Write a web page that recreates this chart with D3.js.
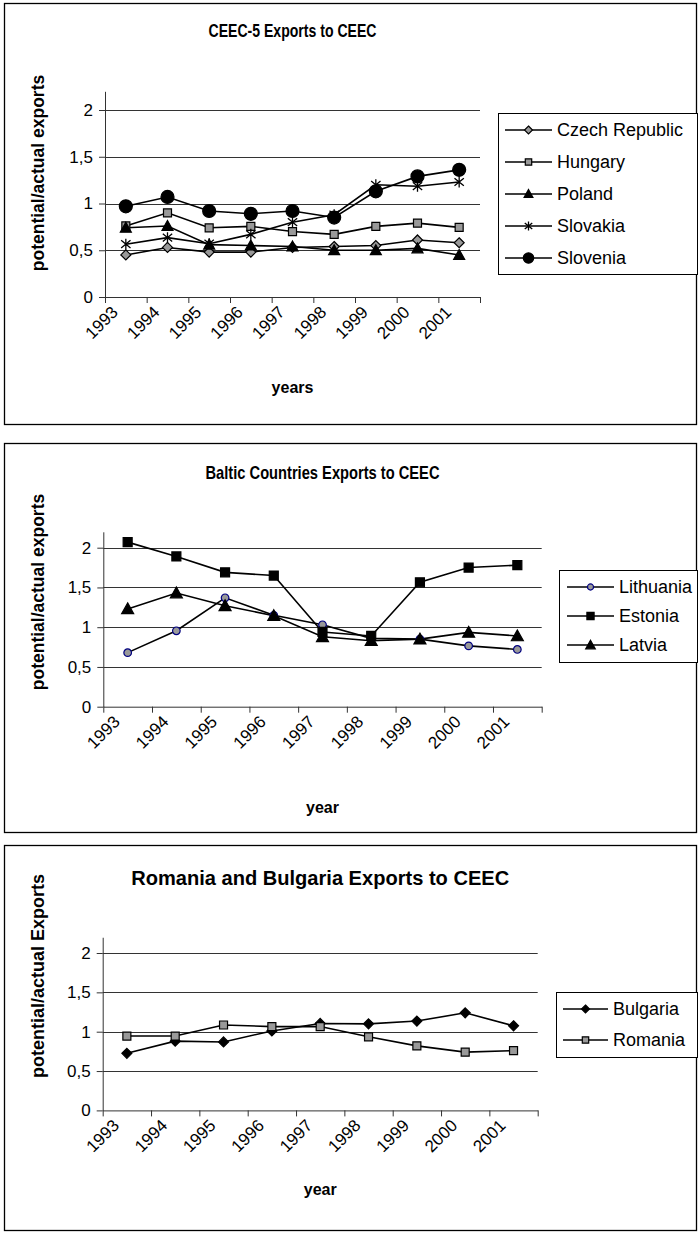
<!DOCTYPE html>
<html>
<head>
<meta charset="utf-8">
<script src="https://cdn.jsdelivr.net/npm/d3@7"></script>
<style>
  body { margin: 0; background: #fff; }
  svg { display: block; font-family: Arial, 'Liberation Sans', sans-serif; }
</style>
</head>
<body>
<svg id="page" width="699" height="1233"></svg>
<script>
const years = ['1993', '1994', '1995', '1996', '1997', '1998', '1999', '2000', '2001'];
const yTicks = [0, 0.5, 1, 1.5, 2];

// CEEC-5
const czech = [0.45, 0.53, 0.48, 0.48, 0.53, 0.54, 0.55, 0.61, 0.58];
const hungary = [0.76, 0.9, 0.74, 0.755, 0.7, 0.67, 0.755, 0.79, 0.745];
const poland = [0.74, 0.76, 0.56, 0.55, 0.54, 0.5, 0.5, 0.52, 0.45];
const slovakia = [0.565, 0.635, 0.57, 0.67, 0.8, 0.88, 1.2, 1.185, 1.23];
const slovenia = [0.97, 1.07, 0.92, 0.89, 0.92, 0.85, 1.13, 1.29, 1.36];

// Baltic
const lithuania = [0.68, 0.955, 1.37, 1.15, 1.03, 0.86, 0.85, 0.765, 0.72];
const estonia = [2.07, 1.89, 1.69, 1.65, 0.94, 0.89, 1.565, 1.75, 1.78];
const latvia = [1.23, 1.43, 1.27, 1.145, 0.88, 0.83, 0.85, 0.935, 0.89];

// Romania / Bulgaria
const bulgaria = [0.725, 0.88, 0.87, 1.01, 1.105, 1.1, 1.135, 1.24, 1.075];
const romania = [0.945, 0.945, 1.085, 1.065, 1.065, 0.935, 0.82, 0.74, 0.76];

const svg = d3.select('#page');
const fmt = (d) => String(d).replace('.', ',');

// marker paths, centred on 0,0
function markerPath(type, s) {
  if (type === 'diamond') return `M0,${-s}L${s},0L0,${s}L${-s},0Z`;
  if (type === 'square') return `M${-s},${-s}H${s}V${s}H${-s}Z`;
  if (type === 'triangle') return `M0,${-s}L${s},${s * 0.8}L${-s},${s * 0.8}Z`;
  if (type === 'star') return `M0,${-s}V${s}M${-s * 0.85},${-s * 0.7}L${s * 0.85},${s * 0.7}M${-s * 0.85},${s * 0.7}L${s * 0.85},${-s * 0.7}`;
  const p = d3.path();
  p.arc(0, 0, s, 0, 2 * Math.PI);
  return p.toString();
}

function drawMarker(g, m, x, y) {
  g.append('path')
    .attr('transform', `translate(${x},${y})`)
    .attr('d', markerPath(m.type, m.size))
    .attr('fill', m.type === 'star' ? 'none' : m.fill)
    .attr('stroke', m.stroke)
    .attr('stroke-width', m.type === 'star' ? 1.3 : 1.2);
}

function drawChart(c) {
  const g = svg.append('g');

  g.append('rect')
    .attr('x', 4.5).attr('y', c.frame[0] + 0.5)
    .attr('width', 692).attr('height', c.frame[1] - c.frame[0])
    .attr('fill', 'none').attr('stroke', '#000').attr('stroke-width', 1.3);

  const x = d3.scaleBand().domain(years).range([c.left, c.right]);
  const xEdge = d3.scaleLinear().domain([0, years.length]).range([c.left, c.right]);
  const y = d3.scaleLinear().domain([0, 2.2]).range([c.y0, c.y0 - 2.2 * c.unit]);

  // gridlines
  g.append('g')
    .selectAll('line')
    .data(yTicks.filter((d) => d > 0))
    .join('line')
    .attr('x1', c.left).attr('x2', c.right)
    .attr('y1', (d) => Math.round(y(d)) + 0.5).attr('y2', (d) => Math.round(y(d)) + 0.5)
    .attr('stroke', '#333');

  const yAxis = g.append('g')
    .attr('transform', `translate(${c.left},0)`)
    .call(d3.axisLeft(y).tickValues(yTicks).tickSize(6).tickSizeOuter(0).tickPadding(6).tickFormat(fmt));
  yAxis.selectAll('text').style('font-size', '17px').attr('fill', '#000');
  yAxis.selectAll('line,path').attr('stroke', '#333');

  const xAxis = g.append('g')
    .attr('transform', `translate(0,${c.y0})`)
    .call(d3.axisBottom(xEdge).ticks(years.length).tickSize(6).tickSizeOuter(0).tickFormat(''));
  xAxis.selectAll('line,path').attr('stroke', '#333');

  g.append('g')
    .selectAll('text')
    .data(years)
    .join('text')
    .attr('transform', (d) => `translate(${x(d) + x.bandwidth() / 2 - 11},${c.y0 + 12}) rotate(-45)`)
    .attr('text-anchor', 'end')
    .attr('dy', '0.35em')
    .style('font-size', '17px')
    .text((d) => d);

  // series
  const line = d3.line()
    .x((d, i) => x(years[i]) + x.bandwidth() / 2)
    .y((d) => y(d));

  c.series.forEach((s) => {
    g.append('path')
      .datum(s.values)
      .attr('d', line)
      .attr('fill', 'none')
      .attr('stroke', '#000')
      .attr('stroke-width', 1.6);
  });
  c.series.forEach((s) => {
    s.values.forEach((v, i) => drawMarker(g, s.marker, x(years[i]) + x.bandwidth() / 2, y(v)));
  });

  // titles (the source picture has condensed headings, hence textLength)
  g.append('text')
    .attr('x', (c.left + c.right) / 2).attr('y', c.titleY)
    .attr('text-anchor', 'middle')
    .attr('textLength', c.titleWidth)
    .attr('lengthAdjust', 'spacingAndGlyphs')
    .style('font-size', c.titleSize + 'px').style('font-weight', 'bold')
    .text(c.title);

  g.append('text')
    .attr('x', (c.left + c.right) / 2).attr('y', c.xTitleY)
    .attr('text-anchor', 'middle')
    .style('font-size', '16px').style('font-weight', 'bold')
    .text(c.xTitle);

  g.append('text')
    .attr('transform', `translate(44,${c.yTitleMid}) rotate(-90)`)
    .attr('text-anchor', 'middle')
    .style('font-size', c.yTitleSize + 'px').style('font-weight', 'bold')
    .text(c.yTitle);

  // legend
  const L = c.legend;
  g.append('rect')
    .attr('x', L.x + 0.5).attr('y', L.y + 0.5)
    .attr('width', 697 - L.x).attr('height', L.h)
    .attr('fill', '#fff').attr('stroke', '#000');

  c.series.forEach((s, i) => {
    const ly = L.first + i * L.step;
    g.append('line')
      .attr('x1', L.x + L.l1).attr('x2', L.x + L.l2)
      .attr('y1', ly).attr('y2', ly)
      .attr('stroke', '#000').attr('stroke-width', 1.6);
    drawMarker(g, Object.assign({}, s.marker, { size: s.marker.size * 0.8 }), L.x + (L.l1 + L.l2) / 2, ly);
    g.append('text')
      .attr('x', L.x + L.l2 + 5).attr('y', ly)
      .attr('dy', '0.35em')
      .style('font-size', '18px')
      .text(s.name);
  });
}

const mk = {
  diamondGrey: { type: 'diamond', size: 5, fill: '#999', stroke: '#000' },
  squareGrey: { type: 'square', size: 4, fill: '#999', stroke: '#000' },
  triangle: { type: 'triangle', size: 5.5, fill: '#000', stroke: '#000' },
  star: { type: 'star', size: 5.5, fill: 'none', stroke: '#000' },
  bigCircle: { type: 'circle', size: 6.5, fill: '#000', stroke: '#000' },
  circleBlue: { type: 'circle', size: 3.8, fill: '#999', stroke: '#000080' },
  squareBlack: { type: 'square', size: 4.5, fill: '#000', stroke: '#000' },
  triangleBig: { type: 'triangle', size: 6, fill: '#000', stroke: '#000' },
  diamondBlack: { type: 'diamond', size: 5, fill: '#000', stroke: '#000' },
};

drawChart({
  frame: [3, 424],
  left: 105, right: 480, y0: 297, unit: 93.5,
  title: 'CEEC-5 Exports to CEEC', titleY: 37, titleSize: 18.5, titleWidth: 168,
  xTitle: 'years', xTitleY: 393,
  yTitle: 'potential/actual exports', yTitleMid: 173, yTitleSize: 17.5,
  legend: { x: 498, y: 113, h: 161, first: 130, step: 32, l1: 7, l2: 54 },
  series: [
    { name: 'Czech Republic', values: czech, marker: mk.diamondGrey },
    { name: 'Hungary', values: hungary, marker: mk.squareGrey },
    { name: 'Poland', values: poland, marker: mk.triangle },
    { name: 'Slovakia', values: slovakia, marker: mk.star },
    { name: 'Slovenia', values: slovenia, marker: mk.bigCircle },
  ],
});

drawChart({
  frame: [443, 832],
  left: 103.3, right: 541.7, y0: 706.7, unit: 79.5,
  title: 'Baltic Countries Exports to CEEC', titleY: 479, titleSize: 18.5, titleWidth: 234,
  xTitle: 'year', xTitleY: 813,
  yTitle: 'potential/actual exports', yTitleMid: 592, yTitleSize: 17.5,
  legend: { x: 559, y: 570, h: 92, first: 587, step: 29, l1: 8, l2: 55 },
  series: [
    { name: 'Lithuania', values: lithuania, marker: mk.circleBlue },
    { name: 'Estonia', values: estonia, marker: mk.squareBlack },
    { name: 'Latvia', values: latvia, marker: mk.triangleBig },
  ],
});

drawChart({
  frame: [845, 1230],
  left: 102.7, right: 537.7, y0: 1110.4, unit: 78.7,
  title: 'Romania and Bulgaria Exports to CEEC', titleY: 885, titleSize: 20, titleWidth: 378,
  xTitle: 'year', xTitleY: 1195,
  yTitle: 'potential/actual Exports', yTitleMid: 976, yTitleSize: 18,
  legend: { x: 556, y: 992, h: 65, first: 1009, step: 31, l1: 7, l2: 52 },
  series: [
    { name: 'Bulgaria', values: bulgaria, marker: mk.diamondBlack },
    { name: 'Romania', values: romania, marker: mk.squareGrey },
  ],
});
</script>
</body>
</html>
